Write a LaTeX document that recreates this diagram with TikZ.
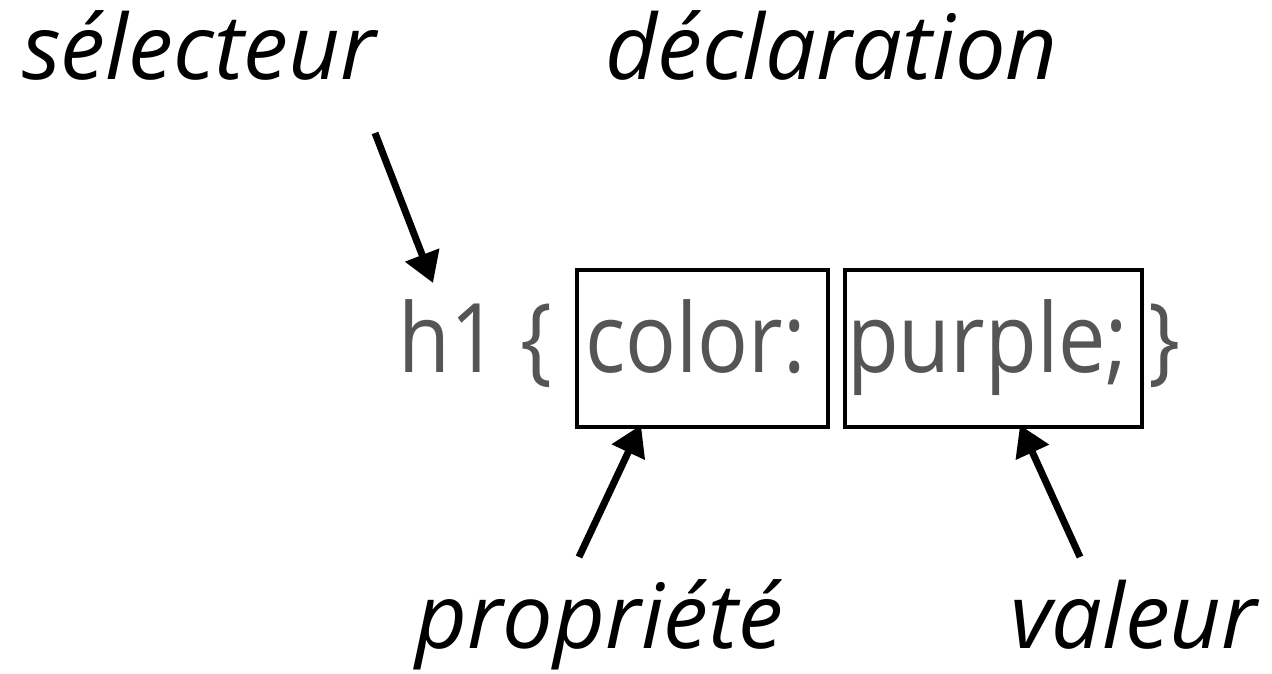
\documentclass[tikz,border=0pt]{standalone}
\usepackage{fontspec}
\setmainfont{Open Sans}
\newfontfamily\codefont[FakeStretch=0.88]{Open Sans}
\usetikzlibrary{arrows.meta}
\definecolor{codegray}{HTML}{555555}
\tikzset{
  lbl/.style={font=\fontsize{90}{100}\selectfont\itshape, anchor=base west, inner sep=0pt},
  code/.style={font=\codefont\fontsize{96}{110}\selectfont, text=codegray, anchor=base west, inner sep=0pt},
  frame/.style={draw=black, line width=4pt, inner sep=0pt},
  pointer/.style={line width=7pt, -{Triangle[length=30pt,width=35pt]}},
}
\begin{document}
\begin{tikzpicture}[x=1pt,y=-1pt]
\useasboundingbox (0,0) rectangle (1272,674);
% labels
\node[lbl] (sel) at (22,80) {sélecteur};
\node[lbl] (decl) at (605,80) {déclaration};
\node[lbl] (prop) at (415,648) {propriété};
\node[lbl] (val) at (1010,648) {valeur};
% code
\node[code] (h1) at (398,372) {h1 \{};
\node[code] (col) at (585,372) {color:};
\node[code] (pur) at (847,372) {purple;};
\node[code] (cl) at (1148,372) {\}};
% boxes
\node[frame, minimum width=251pt, minimum height=157pt] (box1) at (702.5,348.5) {};
\node[frame, minimum width=297pt, minimum height=157pt] (box2) at (993.5,348.5) {};
% arrow ends
\coordinate (a1s) at (375,133);
\coordinate (a1e) at (433,283);
\coordinate (a2s) at (579,557);
\coordinate (a2e) at (641,425);
\coordinate (a3s) at (1080,557);
\coordinate (a3e) at (1020,425);
\draw[pointer] (a1s) -- (a1e);
\draw[pointer] (a2s) -- (a2e);
\draw[pointer] (a3s) -- (a3e);
\end{tikzpicture}
\end{document}
